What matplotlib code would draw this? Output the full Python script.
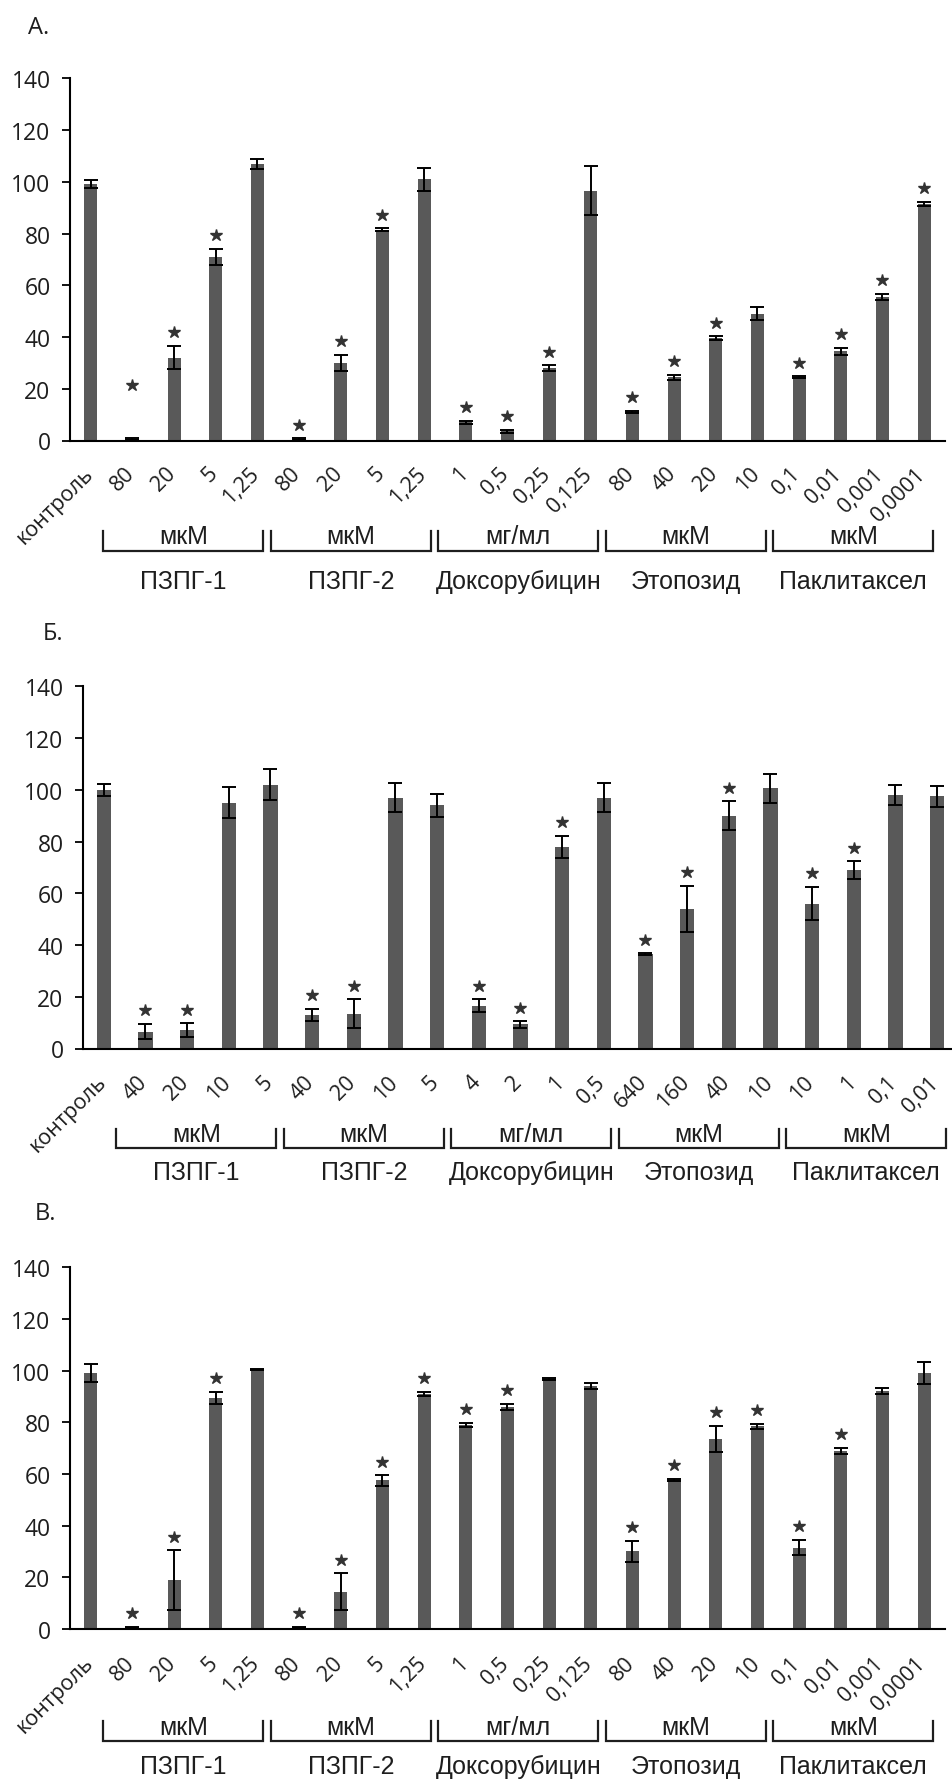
import matplotlib
matplotlib.use('Agg')
import matplotlib.pyplot as plt
from matplotlib.transforms import blended_transform_factory, ScaledTranslation

plt.rcParams['font.family'] = ['Liberation Sans', 'DejaVu Sans']

# tick labels (concentrations)
labels_a = ['контроль', '80', '20', '5', '1,25', '80', '20', '5', '1,25', '1', '0,5', '0,25', '0,125',
            '80', '40', '20', '10', '0,1', '0,01', '0,001', '0,0001']
labels_b = ['контроль', '40', '20', '10', '5', '40', '20', '10', '5', '4', '2', '1', '0,5',
            '640', '160', '40', '10', '10', '1', '0,1', '0,01']
labels_c = labels_a

units = ['мкМ', 'мкМ', 'мг/мл', 'мкМ', 'мкМ']
groups = ['ПЗПГ-1', 'ПЗПГ-2', 'Доксорубицин', 'Этопозид', 'Паклитаксел']

# panel A
values_a = [99, 0.5, 32, 71, 107, 0.5, 30, 81.5, 101, 7, 3.5, 28, 96.5, 11, 24.5, 39.5, 49, 24.5, 34.5, 55.5, 91.5]
err_a = [1.5, 0.3, 4.5, 3, 2, 0.3, 3, 0.5, 4.5, 0.5, 0.5, 1, 9.5, 0.5, 1, 0.7, 2.5, 0.3, 1.3, 1.3, 0.8]
stars_a = [0, 1, 1, 1, 0, 1, 1, 1, 0, 1, 1, 1, 0, 1, 1, 1, 0, 1, 1, 1, 1]

# panel B
values_b = [100, 6.5, 7, 95, 102, 13, 13.5, 97, 94, 16.5, 9.3, 78, 97, 36.5, 54, 90, 100.5, 56, 69, 98, 97.5]
err_b = [2.3, 3, 2.7, 6, 6, 2.3, 5.5, 5.5, 4.5, 2.5, 1.2, 4.2, 5.5, 0.3, 9, 5.5, 5.5, 6.5, 3.3, 4, 4]
stars_b = [0, 1, 1, 0, 0, 1, 1, 0, 0, 1, 1, 1, 0, 1, 1, 1, 0, 1, 1, 0, 0]

# panel C
values_c = [99, 0.5, 19, 89.5, 100.5, 0.5, 14.5, 57.5, 91, 79, 86, 96.8, 94, 30, 57.7, 73.5, 78.5, 31.5, 68.8, 92.2, 99]
err_c = [3.5, 0.3, 11.5, 2.3, 0.3, 0.3, 7, 2, 0.7, 0.7, 1.2, 0.5, 1.2, 4, 0.5, 5, 1, 3, 1.2, 1.2, 4.3]
stars_c = [0, 1, 1, 1, 0, 1, 1, 1, 1, 1, 1, 0, 0, 1, 1, 1, 1, 1, 1, 0, 0]

W, H = 953, 1781
fig = plt.figure(figsize=(W / 100, H / 100), dpi=100)

BAR = '#595959'
INK = '#1e1e1e'


def px_off(dx, dy):
    return ScaledTranslation(dx / 100, dy / 100, fig.dpi_scale_trans)


def draw_panel(rect, values, errors, stars, labels, bw, gaps, star_fix=None):
    left, top, bottom = rect
    ax = fig.add_axes([left / W, 1 - bottom / H, 875 / W, (bottom - top) / H])
    x = list(range(len(values)))
    ax.bar(x, values, width=bw, color=BAR)
    ax.errorbar(x, values, yerr=errors, fmt='none', ecolor='black', elinewidth=1.4,
                capsize=4.7, capthick=1.4)
    sx, sy = [], []
    for i in x:
        if stars[i]:
            sx.append(i)
            y = values[i] + errors[i] + 5.3
            if star_fix and i in star_fix:
                y = star_fix[i]
            sy.append(y)
    ax.plot(sx, sy, linestyle='none', marker='*', ms=9, color='#333333')

    ax.set_xlim(-0.5, 20.5)
    ax.set_ylim(0, 140)
    ax.set_yticks(range(0, 141, 20))
    for s in ['top', 'right']:
        ax.spines[s].set_visible(False)
    for s in ['left', 'bottom']:
        ax.spines[s].set_linewidth(1.5)
    ax.tick_params(axis='y', length=6, width=1.3, labelsize=16.5, pad=8, labelcolor=INK)
    for t in ax.get_yticklabels():
        t.set_fontfamily(['Open Sans', 'DejaVu Sans'])

    tick_pad, br_top, br_line, unit_y, name_y = gaps
    ax.set_xticks(x)
    ax.set_xticklabels(labels, rotation=45, ha='right', va='top')
    ax.tick_params(axis='x', length=0, pad=tick_pad * 0.72, labelsize=15.5, labelcolor=INK)
    for t in ax.get_xticklabels():
        t.set_fontfamily(['Open Sans', 'DejaVu Sans'])
        t.set_transform(t.get_transform() + px_off(6, 0))

    # brackets with units and drug names under the tick labels
    base = blended_transform_factory(ax.transData, ax.transAxes)
    tr_line = base + px_off(0, -br_line)
    rise = (br_line - br_top) / (bottom - top)
    for k in range(5):
        x0 = 0.3 + 4.02 * k
        x1 = x0 + 3.84
        ax.plot([x0, x0, x1, x1], [rise, 0, 0, rise], transform=tr_line, color=INK, lw=1.6,
                clip_on=False, solid_joinstyle='miter')
        xc = (x0 + x1) / 2
        ax.text(xc, 0, units[k], transform=base + px_off(0, -unit_y), ha='center', va='center',
                fontsize=18, color=INK)
        ax.text(xc, 0, groups[k], transform=base + px_off(0, -name_y), ha='center', va='center',
                fontsize=18, color=INK)
    return ax


draw_panel((70, 79.3, 441.5), values_a, err_a, stars_a, labels_a, 0.31,
           (22, 90, 110, 95, 140.5), star_fix={1: 21.5})
draw_panel((83, 687.3, 1049.5), values_b, err_b, stars_b, labels_b, 0.34,
           (22.5, 80.5, 99, 85.5, 123.5))
draw_panel((70, 1268.3, 1630), values_c, err_c, stars_c, labels_c, 0.31,
           (23, 92, 112, 98, 137))

for letter, px, py in [('А.', 28, 28.5), ('Б.', 43, 633.5), ('В.', 35, 1214)]:
    fig.text(px / W, 1 - py / H, letter, fontsize=17, va='center', ha='left', color=INK,
             family=['Open Sans', 'DejaVu Sans'])

fig.savefig('out.png', dpi=100)
